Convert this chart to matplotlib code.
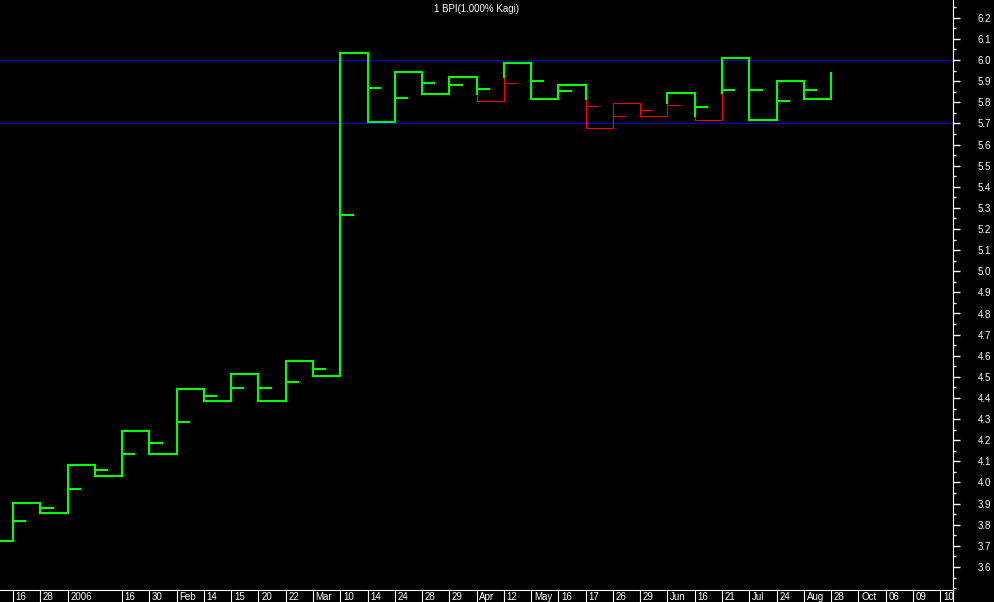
import numpy as np
import matplotlib
matplotlib.use("Agg")
import matplotlib.pyplot as plt
from matplotlib.ticker import FixedLocator, MultipleLocator, FormatStrFormatter

plt.rcParams['font.family'] = ['Liberation Sans', 'DejaVu Sans']

title = "1 BPI(1.000% Kagi)"

# kagi levels: line starts at start_level, then at column i goes vertically to levels[i]
start_level = 3.723
levels = [3.904, 3.857, 4.083, 4.031, 4.245, 4.135, 4.443, 4.386, 4.515, 4.386,
          4.577, 4.506, 6.035, 5.705, 5.945, 5.840, 5.921, 5.806, 5.987, 5.815,
          5.883, 5.678, 5.795, 5.734, 5.842, 5.715, 6.008, 5.715, 5.902, 5.815,
          5.937]
# small tick marks to the right of each vertical
stubs = [3.818, 3.879, 3.969, 4.059, 4.135, 4.187, 4.288, 4.411, 4.447, 4.447,
         4.476, 4.537, 5.266, 5.867, 5.820, 5.893, 5.883, 5.864, 5.890, 5.902,
         5.852, 5.781, 5.733, 5.762, 5.786, 5.779, 5.858, 5.858, 5.806, 5.858]

x_labels = ["16", "28", "2006", "", "16", "30", "Feb", "14", "15", "20", "22", "Mar",
            "10", "14", "24", "28", "29", "Apr", "12", "May", "16", "17", "26", "29",
            "Jun", "16", "21", "Jul", "24", "Aug", "28", "Oct", "06", "09", "10"]

ref_lines = [6.0, 5.7]

GREEN = "#00ff00"
RED = "#ff0000"
W, H = 994, 602
x0, x1 = -13 / 27.27, (953 - 13) / 27.27

fig = plt.figure(figsize=(W / 100, H / 100), dpi=100, facecolor="black")
ax = fig.add_axes([0, 12 / H, 953 / W, 590 / H], facecolor="black")
ax.set_xlim(x0, x1)
ax.set_ylim(6.0 - 530 / 211.25, 6.0 + 60 / 211.25)

for v in ref_lines:
    ax.axhline(v, color="#0000e0", lw=0.72, snap=True, zorder=1)

def seg(xs, ys, c):
    lw = 1.5 if c == GREEN else 0.75
    ax.plot(xs, ys, color=c, lw=lw, solid_capstyle="projecting", zorder=3 if c == GREEN else 2)

state = GREEN
last_high = -np.inf
last_low = start_level
prev = start_level
seg([x0, 0], [prev, prev], state)
for i, b in enumerate(levels):
    a = prev
    split = None
    if b > a:
        if state == RED and b > last_high:
            split = last_high
        last_high = b
    else:
        if state == GREEN and b < last_low:
            split = last_low
        last_low = b
    if split is None:
        seg([i, i], [a, b], state)
        stub_c = state
    else:
        old = state
        state = GREEN if b > a else RED
        seg([i, i], [a, split], old)
        seg([i, i], [split, b], state)
    if i < len(stubs):
        if split is not None:
            stub_c = GREEN if stubs[i] >= split else RED
        seg([i, i + 0.45], [stubs[i], stubs[i]], stub_c)
    if i < len(levels) - 1:
        seg([i, i + 1], [b, b], state)
    prev = b

ax.text(0.5, 1 - 9 / 590, title, transform=ax.transAxes, color="white",
        fontsize=7, ha="center", va="center")

ax.yaxis.tick_right()
ax.yaxis.set_major_locator(FixedLocator(np.round(np.arange(3.6, 6.25, 0.1), 1)))
ax.yaxis.set_minor_locator(MultipleLocator(0.05))
ax.yaxis.set_major_formatter(FormatStrFormatter("%.1f"))
ax.tick_params(axis="y", which="major", direction="out", length=5, width=1,
               colors="white", labelsize=7, pad=13)
ax.tick_params(axis="y", which="minor", direction="out", length=2.5, width=1, colors="white")
ax.set_xticks([])
for s in ["left", "top", "bottom"]:
    ax.spines[s].set_visible(False)
ax.spines["right"].set_color("white")

# date strip along the bottom
ax2 = fig.add_axes([0, 0, 953 / W, 12 / H], facecolor="black")
ax2.set_xlim(x0, x1)
ax2.set_ylim(0, 1)
ax2.set_xticks([])
ax2.set_yticks([])
ax2.spines["left"].set_visible(False)
ax2.spines["bottom"].set_visible(False)
ax2.spines["top"].set_color("white")
ax2.spines["right"].set_color("white")
for i, lab in enumerate(x_labels):
    if lab:
        ax2.axvline(i, color="white", lw=0.8)
        ax2.text(i + 0.1, 0.45, lab, color="white", fontsize=7, ha="left", va="center")

fig.savefig("out.png", dpi=100, facecolor="black")
